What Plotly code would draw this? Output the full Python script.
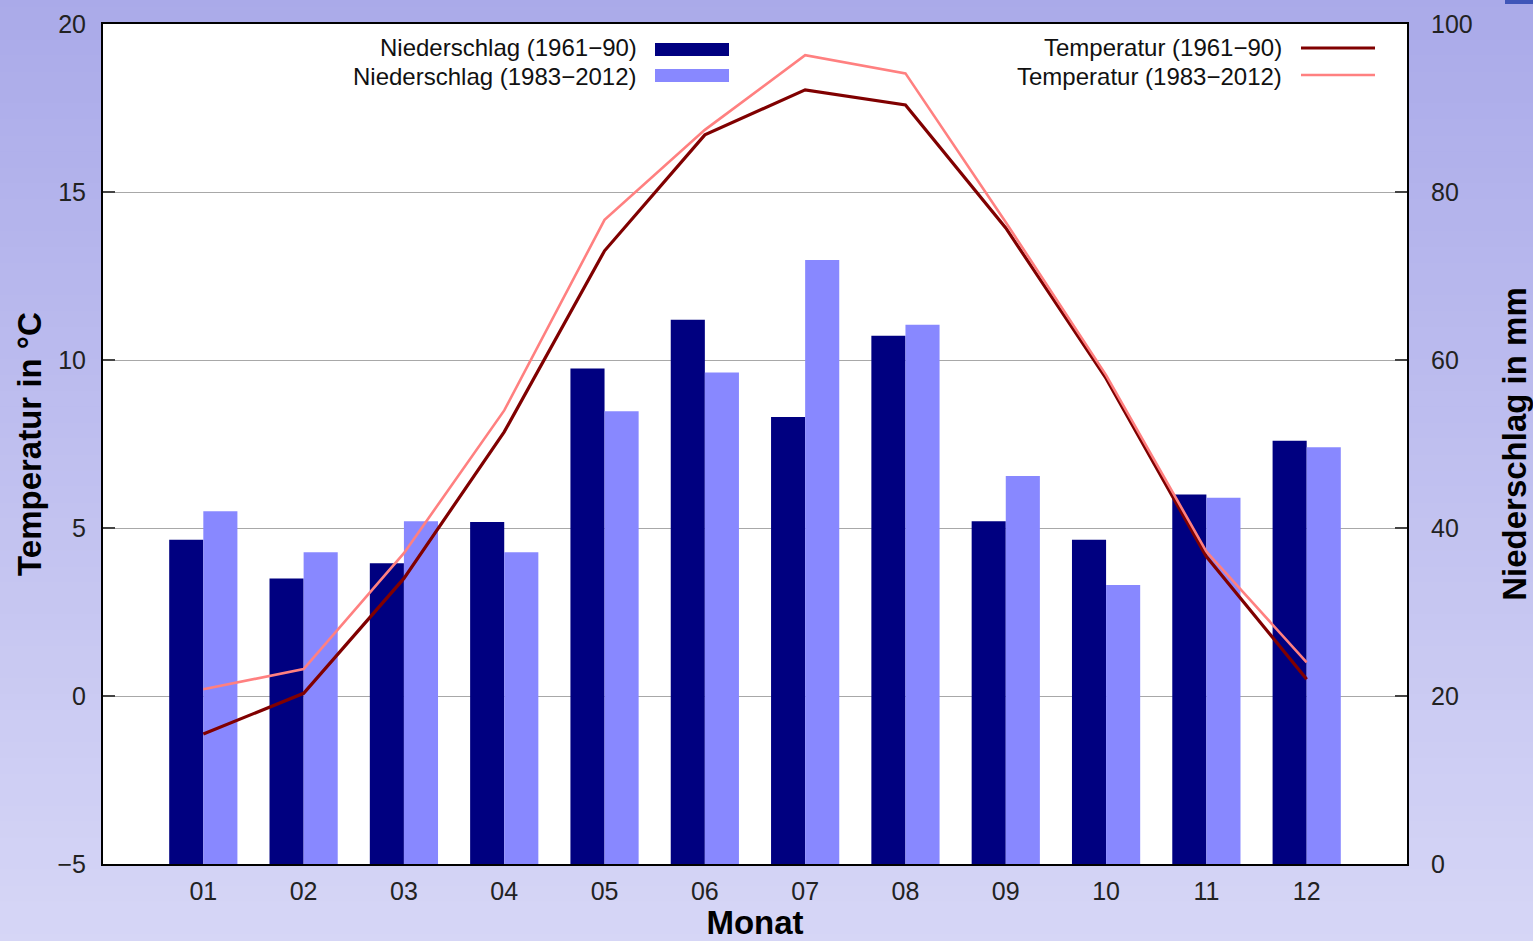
import plotly.graph_objects as go

# ---------------- data ----------------
months = ["01", "02", "03", "04", "05", "06", "07", "08", "09", "10", "11", "12"]
precip_1961_90 = [38.6, 34.0, 35.8, 40.7, 59.0, 64.8, 53.2, 62.9, 40.8, 38.6, 44.0, 50.4]
precip_1983_2012 = [42.0, 37.1, 40.8, 37.1, 53.9, 58.5, 71.9, 64.2, 46.2, 33.2, 43.6, 49.6]
temp_1961_90 = [-1.13, 0.08, 3.5, 7.86, 13.25, 16.7, 18.04, 17.59, 13.93, 9.45, 4.15, 0.5]
temp_1983_2012 = [0.2, 0.8, 4.25, 8.5, 14.17, 16.85, 19.07, 18.53, 14.1, 9.55, 4.3, 1.0]

temp_ticks = [-5, 0, 5, 10, 15, 20]
precip_ticks = [0, 20, 40, 60, 80, 100]

label_p1 = "Niederschlag (1961\u221290)"
label_p2 = "Niederschlag (1983\u22122012)"
label_t1 = "Temperatur (1961\u221290)"
label_t2 = "Temperatur (1983\u22122012)"

# ---------------- styling ----------------
W, H = 1533, 941
ML, MR, MT, MB = 103, 126, 24, 77
PW, PH = W - ML - MR, H - MT - MB
FONT = "Liberation Sans, Arial, sans-serif"
C_DARKBAR = "#000080"
C_LIGHTBAR = "#8888FF"
C_DARKLINE = "#800000"
C_LIGHTLINE = "#FF8080"


def px_x(px):
    return (px - ML) / PW


def px_y(py):
    return (H - MB - py) / PH


fig = go.Figure()

fig.add_trace(go.Bar(x=months, y=precip_1961_90, name=label_p1, marker_color=C_DARKBAR,
                     marker_line_width=0, yaxis="y", showlegend=False))
fig.add_trace(go.Bar(x=months, y=precip_1983_2012, name=label_p2, marker_color=C_LIGHTBAR,
                     marker_line_width=0, yaxis="y", showlegend=False))
fig.add_trace(go.Scatter(x=months, y=temp_1961_90, name=label_t1, mode="lines",
                         line=dict(color=C_DARKLINE, width=3.2), yaxis="y2", showlegend=False))
fig.add_trace(go.Scatter(x=months, y=temp_1983_2012, name=label_t2, mode="lines",
                         line=dict(color=C_LIGHTLINE, width=2.6), yaxis="y2", showlegend=False))

# ---------------- background gradient ----------------
shapes = []
top = (170, 170, 233)
bot = (214, 214, 246)
n = 60
y_lo, y_hi = -MB / PH - 0.01, 1 + MT / PH + 0.01
x_lo, x_hi = -ML / PW - 0.01, 1 + MR / PW + 0.01
for i in range(n):
    f = i / (n - 1)
    c = tuple(round(top[k] + (bot[k] - top[k]) * f) for k in range(3))
    y1 = y_hi - (y_hi - y_lo) * i / n
    y0 = y_hi - (y_hi - y_lo) * (i + 1) / n - 0.002
    shapes.append(dict(type="rect", xref="paper", yref="paper", x0=x_lo, x1=x_hi, y0=y0, y1=y1,
                       fillcolor="rgb(%d,%d,%d)" % c, line_width=0, layer="below"))
# white plotting area
shapes.append(dict(type="rect", xref="paper", yref="paper", x0=0, x1=1, y0=0, y1=1,
                   fillcolor="white", line_width=0, layer="below"))
# small blue corner mark
shapes.append(dict(type="rect", xref="paper", yref="paper", x0=px_x(1505), x1=px_x(1540),
                   y0=px_y(4), y1=px_y(-2), fillcolor="#3F55B8", line_width=0, layer="below"))

# ---------------- manual legend ----------------
annotations = []
leg_font = dict(family=FONT, size=24, color="#111111")
for text, yy in [(label_p1, 47), (label_p2, 76)]:
    annotations.append(dict(text=text, xref="paper", yref="paper", x=px_x(639), y=px_y(yy),
                            xanchor="right", yanchor="middle", showarrow=False, font=leg_font))
for text, yy in [(label_t1, 47), (label_t2, 76)]:
    annotations.append(dict(text=text, xref="paper", yref="paper", x=px_x(1284), y=px_y(yy),
                            xanchor="right", yanchor="middle", showarrow=False, font=leg_font))
shapes.append(dict(type="rect", xref="paper", yref="paper", x0=px_x(655), x1=px_x(729),
                   y0=px_y(56), y1=px_y(43), fillcolor=C_DARKBAR, line_width=0, layer="above"))
shapes.append(dict(type="rect", xref="paper", yref="paper", x0=px_x(655), x1=px_x(729),
                   y0=px_y(82), y1=px_y(69), fillcolor=C_LIGHTBAR, line_width=0, layer="above"))
shapes.append(dict(type="line", xref="paper", yref="paper", x0=px_x(1301), x1=px_x(1375),
                   y0=px_y(48), y1=px_y(48), line=dict(color=C_DARKLINE, width=3.2), layer="above"))
shapes.append(dict(type="line", xref="paper", yref="paper", x0=px_x(1301), x1=px_x(1375),
                   y0=px_y(75), y1=px_y(75), line=dict(color=C_LIGHTLINE, width=2.6), layer="above"))

tick_font = dict(family=FONT, size=25, color="#222222")
title_font = dict(family=FONT, size=33, color="#000000", weight="bold")

fig.update_layout(
    width=W, height=H,
    margin=dict(l=ML, r=MR, t=MT, b=MB, pad=0, autoexpand=False),
    paper_bgcolor="rgb(200,200,242)",
    plot_bgcolor="rgba(0,0,0,0)",
    barmode="group", bargap=0.32, bargroupgap=0,
    showlegend=False,
    shapes=shapes,
    annotations=annotations,
    xaxis=dict(
        type="category", range=[-1, 12], tickvals=months, ticktext=months,
        showline=True, linecolor="#000000", linewidth=2, mirror=True,
        ticks="", tickfont=tick_font, ticklabelstandoff=4, showgrid=False,
        automargin=True,
        title=dict(text="Monat", font=title_font, standoff=6),
    ),
    yaxis=dict(
        side="right", range=[0, 100], tickvals=precip_ticks,
        showline=True, linecolor="#000000", linewidth=2,
        ticks="inside", ticklen=12, tickwidth=2, tickcolor="#444444",
        tickfont=tick_font, ticklabelstandoff=17, showgrid=False, zeroline=False,
        automargin=False,
        title=dict(text="Niederschlag in mm", font=title_font, standoff=32),
    ),
    yaxis2=dict(
        overlaying="y", side="left", range=[-5, 20], tickvals=temp_ticks,
        ticktext=["\u22125", "0", "5", "10", "15", "20"],
        showline=True, linecolor="#000000", linewidth=2,
        ticks="inside", ticklen=12, tickwidth=2, tickcolor="#444444",
        tickfont=tick_font, ticklabelstandoff=10,
        showgrid=True, gridcolor="#A8A8A8", gridwidth=1.2, zeroline=False,
        automargin=False,
        title=dict(text="Temperatur in \u00b0C", font=title_font, standoff=6),
    ),
)

fig.write_html("out.html", config={"displayModeBar": False},
               post_script="document.body.style.margin='0';document.body.style.overflow='hidden';")
